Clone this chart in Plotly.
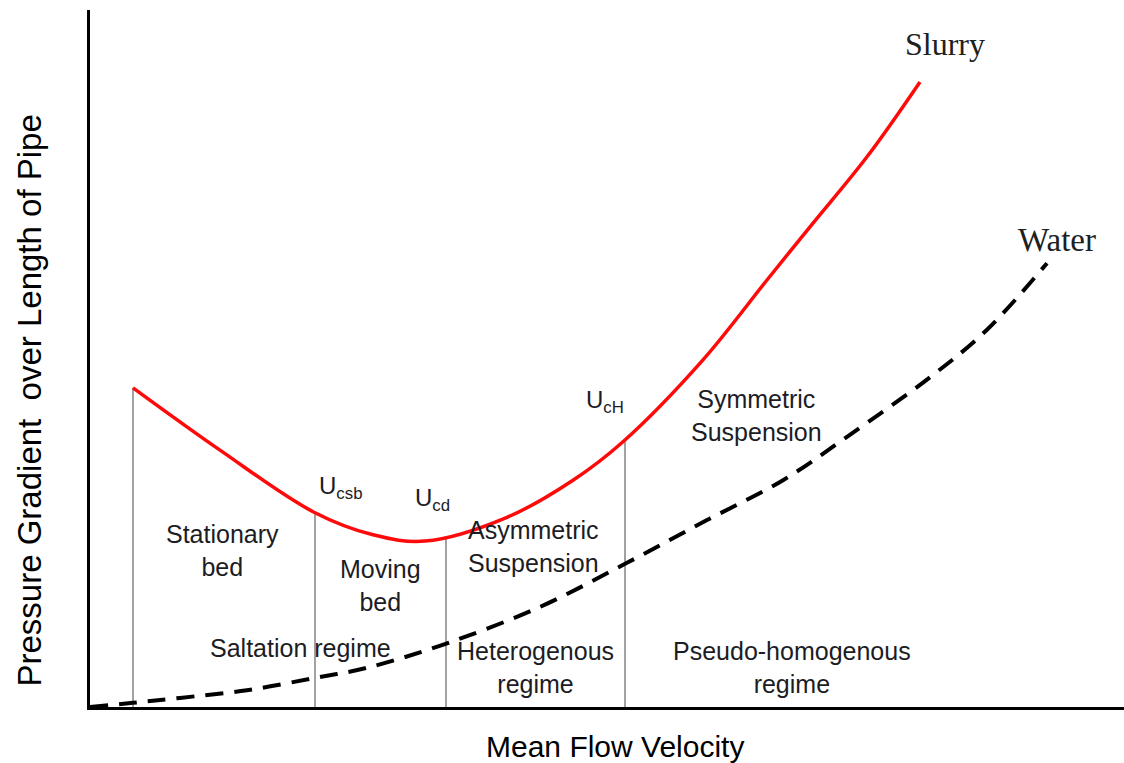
import plotly.graph_objects as go

# Slurry pressure-gradient curve (velocity, pressure gradient)
slurry_v = [0.43, 1.30, 2.23, 2.83, 3.35, 4.17, 4.83, 5.33, 6.13, 6.77, 7.20, 7.77, 8.30]
slurry_p = [4.56, 3.67, 2.79, 2.46, 2.37, 2.71, 3.24, 3.79, 4.96, 6.10, 6.86, 7.86, 8.93]

# Clear-water pressure-gradient curve
water_v = [0.00, 0.43, 0.90, 1.57, 2.23, 2.77, 3.57, 4.50, 5.37, 6.17, 6.93, 7.57, 8.40, 8.97, 9.57]
water_p = [0.00, 0.06, 0.13, 0.24, 0.41, 0.56, 0.91, 1.43, 2.06, 2.67, 3.24, 3.86, 4.71, 5.39, 6.34]

# Regime boundary velocities and the slurry gradient at each boundary
boundary_v = [0.43, 2.25, 3.56, 5.35]
boundary_p = [4.56, 2.79, 2.41, 3.79]

SANS = "Arial, Liberation Sans, sans-serif"
SERIF = "Times New Roman, Liberation Serif, serif"
TXT = "#1c1c24"

fig = go.Figure()

# regime boundaries
for v, p in zip(boundary_v, boundary_p):
    fig.add_trace(go.Scatter(x=[v, v], y=[0, p], mode="lines",
                             line=dict(color="#a2a2a2", width=2),
                             hoverinfo="skip", showlegend=False))

fig.add_trace(go.Scatter(x=water_v, y=water_p, mode="lines",
                         line=dict(color="black", width=4, dash="18px,11px", shape="spline"),
                         name="Water", showlegend=False))
fig.add_trace(go.Scatter(x=slurry_v, y=slurry_p, mode="lines",
                         line=dict(color="#ff0a0a", width=3.5, shape="spline"),
                         name="Slurry", showlegend=False))

labels = [
    ("Stationary<br>bed", 1.32, 2.23),
    ("Moving<br>bed", 2.90, 1.74),
    ("Asymmetric<br>Suspension", 4.43, 2.30),
    ("Symmetric<br>Suspension", 6.66, 4.16),
    ("Saltation regime", 2.10, 0.84),
    ("Heterogenous<br>regime", 4.45, 0.57),
    ("Pseudo-homogenous<br>regime", 7.02, 0.57),
]
for text, x, y in labels:
    fig.add_annotation(x=x, y=y, text=text, showarrow=False,
                       font=dict(family=SANS, size=25, color=TXT),
                       xanchor="center", yanchor="middle")

for text, x, y in [("U<sub>csb</sub>", 2.50, 3.13),
                   ("U<sub>cd</sub>", 3.42, 2.96),
                   ("U<sub>cH</sub>", 5.15, 4.36)]:
    fig.add_annotation(x=x, y=y, text=text, showarrow=False,
                       font=dict(family=SANS, size=24, color=TXT),
                       xanchor="center", yanchor="middle")

fig.add_annotation(x=8.55, y=9.47, text="Slurry", showarrow=False,
                   font=dict(family=SERIF, size=32, color="#202020"))
fig.add_annotation(x=9.67, y=6.67, text="Water", showarrow=False,
                   font=dict(family=SERIF, size=33, color="#202020"))

# axis titles
fig.add_annotation(xref="paper", yref="paper", x=-0.0585, y=0.439,
                   text="Pressure Gradient  over Length of Pipe", textangle=-90,
                   showarrow=False, xanchor="center", yanchor="middle",
                   font=dict(family=SANS, size=33, color="black"))
fig.add_annotation(xref="paper", yref="paper", x=0.5077, y=-0.056,
                   text="Mean Flow Velocity",
                   showarrow=False, xanchor="center", yanchor="middle",
                   font=dict(family=SANS, size=30, color="black"))

fig.update_layout(
    width=1124, height=763,
    margin=dict(l=90, r=0, t=10, b=56),
    paper_bgcolor="white", plot_bgcolor="white",
    xaxis=dict(range=[0, 10.34], showgrid=False, zeroline=False,
               showline=True, linecolor="black", linewidth=3,
               showticklabels=False, ticks="", automargin=False),
    yaxis=dict(range=[0, 9.957], showgrid=False, zeroline=False,
               showline=True, linecolor="black", linewidth=3,
               showticklabels=False, ticks="", automargin=False),
)

fig.write_html("out.html")
